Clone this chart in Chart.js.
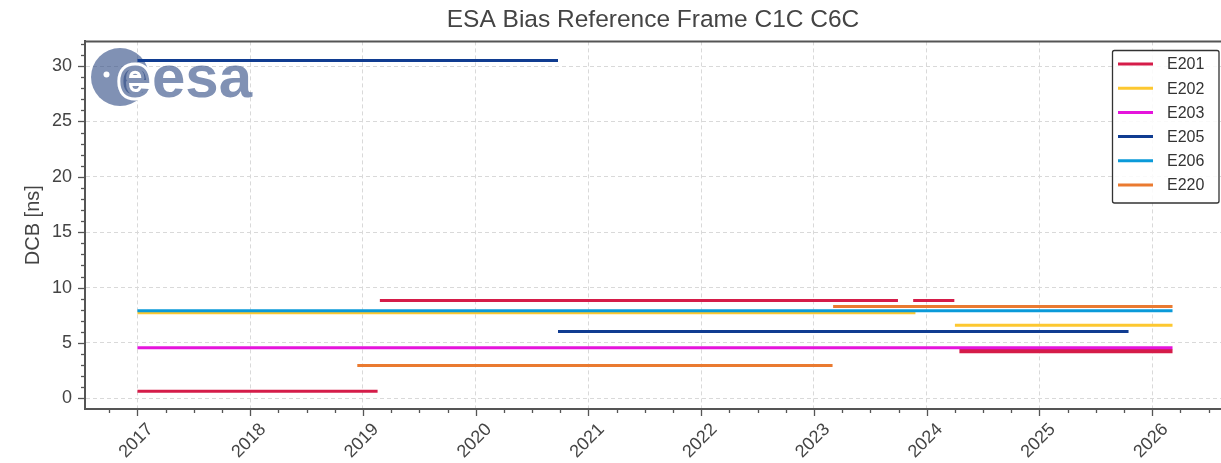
<!DOCTYPE html>
<html><head><meta charset="utf-8">
<script src="https://cdn.jsdelivr.net/npm/chart.js@4.4.1/dist/chart.umd.min.js"></script>
<style>html,body{margin:0;padding:0;background:#fff;overflow:hidden}</style>
</head><body>
<canvas id="c" width="1221" height="463"></canvas>
<script>
// ---------- data ----------
const titleText = 'ESA Bias Reference Frame C1C C6C';
const yAxisLabel = 'DCB [ns]';
const seriesLabels = ['E201', 'E202', 'E203', 'E205', 'E206', 'E220'];
const seriesColors = ['#d51c49', '#fdc830', '#e514dc', '#103c91', '#0b9ad9', '#ea7a30'];
const xTickYears = [2017, 2018, 2019, 2020, 2021, 2022, 2023, 2024, 2025, 2026];
const yTickValues = [0, 5, 10, 15, 20, 25, 30];

// segments: start (decimal year), end (decimal year), DCB value (ns)
const E201_start = [2017.0, 2019.15, 2023.88, 2024.29, 2024.29];
const E201_end   = [2019.13, 2023.745, 2024.245, 2026.18, 2026.18];
const E201_dcb   = [0.65, 8.83, 8.83, 4.32, 4.2];

const E202_start = [2017.0, 2024.25];
const E202_end   = [2023.9, 2026.18];
const E202_dcb   = [7.72, 6.6];

const E203_start = [2017.0];
const E203_end   = [2026.18];
const E203_dcb   = [4.58];

const E205_start = [2017.0, 2020.73];
const E205_end   = [2020.73, 2025.79];
const E205_dcb   = [30.5, 6.04];

const E206_start = [2017.0];
const E206_end   = [2026.18];
const E206_dcb   = [7.9];

const E220_start = [2018.95, 2023.17];
const E220_end   = [2023.165, 2026.18];
const E220_dcb   = [2.97, 8.29];

const segmentSets = [
  [E201_start, E201_end, E201_dcb],
  [E202_start, E202_end, E202_dcb],
  [E203_start, E203_end, E203_dcb],
  [E205_start, E205_end, E205_dcb],
  [E206_start, E206_end, E206_dcb],
  [E220_start, E220_end, E220_dcb]
];

// ---------- build ----------
const FONT = "'Liberation Sans', Arial, sans-serif";
function toPoints(st, en, v) {
  const pts = [];
  for (let i = 0; i < st.length; i++) {
    pts.push({x: st[i], y: v[i]}, {x: en[i], y: v[i]}, {x: en[i], y: null});
  }
  return pts;
}
const datasets = seriesLabels.map((lab, i) => ({
  label: lab,
  data: toPoints(...segmentSets[i]),
  borderColor: seriesColors[i],
  backgroundColor: seriesColors[i],
  borderWidth: 3,
  pointRadius: 0,
  showLine: true,
  spanGaps: false,
  borderCapStyle: 'butt',
  order: seriesLabels.length - i
}));

const logoPlugin = {
  id: 'esaLogo',
  beforeDatasetsDraw(chart) {
    const ctx = chart.ctx;
    ctx.save();
    const col = 'rgba(43,72,130,0.6)';
    ctx.fillStyle = col;
    ctx.beginPath(); ctx.arc(120, 77, 29, 0, Math.PI * 2); ctx.fill();
    ctx.fillStyle = '#fff';
    ctx.beginPath(); ctx.arc(106.5, 74.5, 3, 0, Math.PI * 2); ctx.fill();
    ctx.font = 'bold 60px ' + FONT;
    ctx.textBaseline = 'alphabetic';
    ctx.lineJoin = 'round';
    ctx.lineWidth = 6; ctx.strokeStyle = '#fff';
    ctx.strokeText('e', 118, 97);
    ctx.fillStyle = col;
    ctx.fillText('e', 118, 97);
    ctx.fillText('esa', 152, 97);
    ctx.restore();
  }
};

const axesPlugin = {
  id: 'axesExtras',
  afterDraw(chart) {
    const ctx = chart.ctx, ca = chart.chartArea;
    const xs = chart.scales.x, ys = chart.scales.y;
    ctx.save();
    ctx.strokeStyle = '#555';
    ctx.lineWidth = 2;
    ctx.beginPath(); ctx.moveTo(ca.left - 1, ca.top); ctx.lineTo(ca.right, ca.top); ctx.stroke();
    ctx.lineWidth = 1.3;
    for (let q = Math.ceil(xs.min * 4); q <= Math.floor(xs.max * 4); q++) {
      const v = q / 4;
      const px = Math.round(xs.getPixelForValue(v)) + 0.5;
      const len = (q % 4 === 0) ? 7 : 4;
      ctx.beginPath(); ctx.moveTo(px, ca.bottom); ctx.lineTo(px, ca.bottom + len); ctx.stroke();
    }
    for (let v = Math.ceil(ys.min); v <= Math.floor(ys.max); v++) {
      const py = Math.round(ys.getPixelForValue(v)) + 0.5;
      const len = (v % 5 === 0) ? 7 : 4;
      ctx.beginPath(); ctx.moveTo(ca.left, py); ctx.lineTo(ca.left - len, py); ctx.stroke();
    }
    ctx.restore();
  }
};

const legendPlugin = {
  id: 'boxLegend',
  afterDraw(chart) {
    const ctx = chart.ctx;
    ctx.save();
    const x0 = 1112.5, y0 = 50.5, w = 106.5, h = 152.5;
    ctx.fillStyle = 'rgba(255,255,255,0.85)';
    ctx.strokeStyle = '#333';
    ctx.lineWidth = 1.3;
    ctx.beginPath();
    ctx.roundRect(x0, y0, w, h, 2);
    ctx.fill(); ctx.stroke();
    ctx.font = '16px ' + FONT;
    ctx.textBaseline = 'middle';
    chart.data.datasets.forEach((ds, i) => {
      const y = 64 + i * 24.2;
      ctx.strokeStyle = ds.borderColor;
      ctx.lineWidth = 3;
      ctx.beginPath(); ctx.moveTo(1118, y); ctx.lineTo(1153, y); ctx.stroke();
      ctx.fillStyle = '#333';
      ctx.fillText(ds.label, 1167, y + 1);
    });
    ctx.restore();
  }
};

new Chart(document.getElementById('c'), {
  type: 'scatter',
  data: { datasets },
  options: {
    responsive: false,
    animation: false,
    devicePixelRatio: 1,
    layout: { padding: 0 },
    plugins: {
      legend: { display: false },
      tooltip: { enabled: false },
      title: {
        display: true, text: titleText, color: '#444', fullSize: false,
        font: { size: 24.5, family: FONT, weight: 'normal' },
        padding: { top: 6, bottom: 6 }
      }
    },
    scales: {
      x: {
        type: 'linear', min: 2016.535, max: 2026.61,
        afterBuildTicks: s => { s.ticks = xTickYears.map(v => ({ value: v })); },
        afterFit: s => { s.height = 54; },
        ticks: {
          callback: v => String(v), autoSkip: false,
          minRotation: 45, maxRotation: 45,
          font: { size: 18, family: FONT }, color: '#444',
          padding: 10, labelOffset: 13
        },
        grid: { color: '#d9d9d9', lineWidth: 1, drawTicks: false },
        border: { display: true, color: '#555', width: 2, dash: [4, 3] }
      },
      y: {
        type: 'linear', min: -0.96, max: 32.23,
        afterBuildTicks: s => { s.ticks = yTickValues.map(v => ({ value: v })); },
        afterFit: s => { s.width = 85; },
        ticks: {
          font: { size: 18, family: FONT }, color: '#444', padding: 13
        },
        title: {
          display: true, text: yAxisLabel, color: '#444',
          font: { size: 20, family: FONT }, padding: { top: 21, bottom: 0 }
        },
        grid: { color: '#d9d9d9', lineWidth: 1, drawTicks: false },
        border: { display: true, color: '#555', width: 2, dash: [4, 3] }
      }
    }
  },
  plugins: [logoPlugin, axesPlugin, legendPlugin]
});
</script>
</body></html>
